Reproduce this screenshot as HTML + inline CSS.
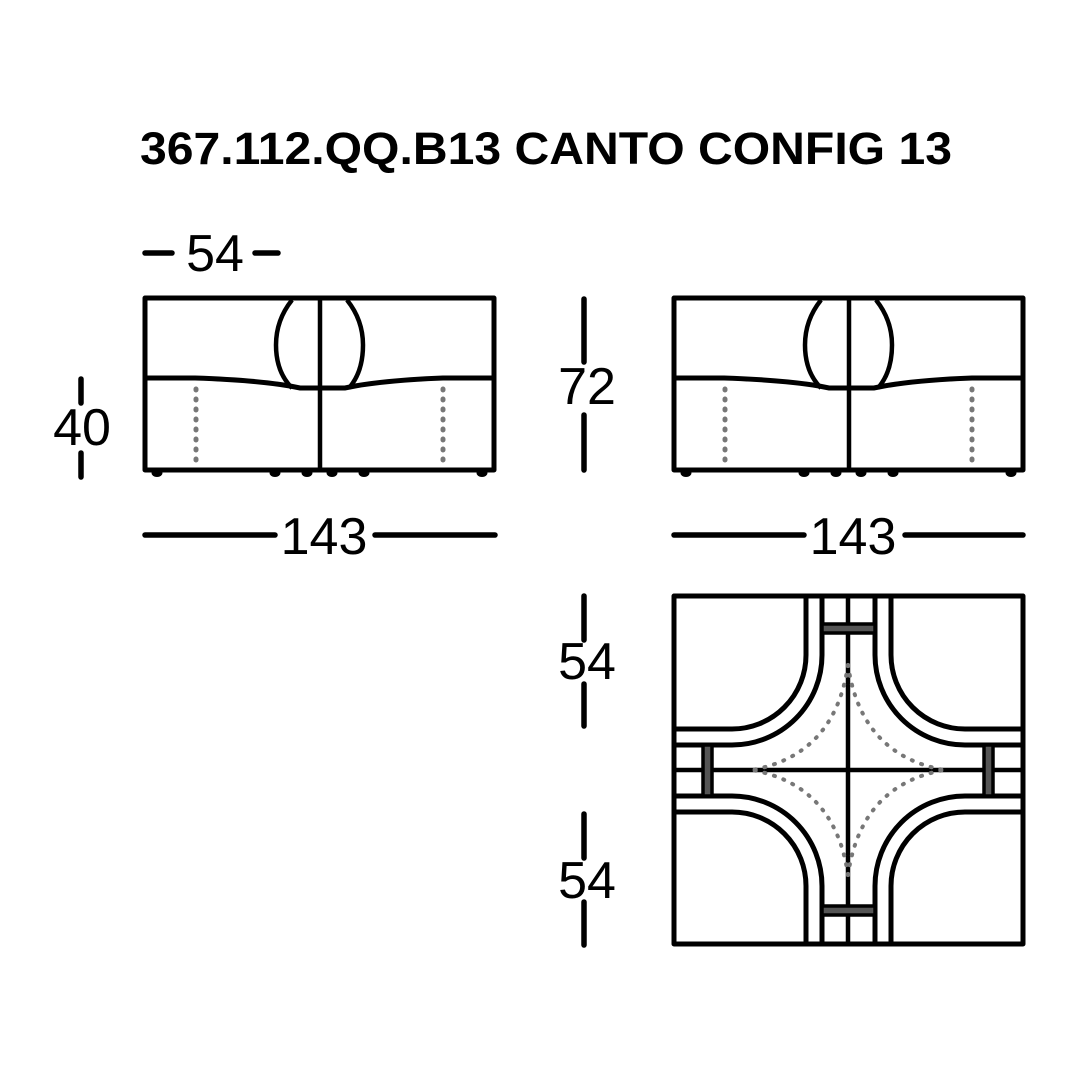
<!DOCTYPE html>
<html><head><meta charset="utf-8"><style>
html,body{margin:0;padding:0;background:#fff;}
svg{display:block;}
text{font-family:"Liberation Sans",Arial,sans-serif;}
</style></head><body>
<svg width="1080" height="1080" viewBox="0 0 1080 1080" xmlns="http://www.w3.org/2000/svg">
<rect width="1080" height="1080" fill="#fff"/>
<text x="140" y="164" font-size="45" font-weight="bold" fill="#000" textLength="812" lengthAdjust="spacingAndGlyphs">367.112.QQ.B13 CANTO CONFIG 13</text>

<defs>
<g id="front">
  <rect x="145" y="298" width="349" height="172" fill="none" stroke="#000" stroke-width="5" stroke-linejoin="round"/>
  <line x1="320" y1="298" x2="320" y2="470" stroke="#000" stroke-width="4.5"/>
  <path d="M147 378 L195 378 Q255 380 290 386 L300 388 L345 388 L355 386 Q390 380 443 378 L492 378" fill="none" stroke="#000" stroke-width="5"/>
  <path d="M292 300 Q276 320 276 345 Q276 372 292 388" fill="none" stroke="#000" stroke-width="4.5"/>
  <path d="M347 300 Q363 320 363 345 Q363 372 349 388" fill="none" stroke="#000" stroke-width="4.5"/>
  <line x1="196" y1="389" x2="196" y2="463" stroke="#777" stroke-width="5" stroke-dasharray="1,9" stroke-linecap="round"/>
  <line x1="443" y1="389" x2="443" y2="463" stroke="#777" stroke-width="5" stroke-dasharray="1,9" stroke-linecap="round"/>
  <g fill="#000">
    <ellipse cx="157" cy="473" rx="5.5" ry="4"/>
    <ellipse cx="275" cy="473" rx="5.5" ry="4"/>
    <ellipse cx="307" cy="473" rx="5.5" ry="4"/>
    <ellipse cx="332" cy="473" rx="5.5" ry="4"/>
    <ellipse cx="364" cy="473" rx="5.5" ry="4"/>
    <ellipse cx="482" cy="473" rx="5.5" ry="4"/>
  </g>
</g>
</defs>
<use href="#front"/>
<use href="#front" transform="translate(529,0)"/>

<g stroke="#000" stroke-width="5.5" stroke-linecap="round">
  <line x1="145" y1="253" x2="172" y2="253"/>
  <line x1="255" y1="253" x2="278" y2="253"/>
  <line x1="81" y1="379" x2="81" y2="403"/>
  <line x1="81" y1="453" x2="81" y2="477"/>
  <line x1="584" y1="299" x2="584" y2="362"/>
  <line x1="584" y1="415" x2="584" y2="470"/>
  <line x1="145" y1="535" x2="275" y2="535"/>
  <line x1="375" y1="535" x2="495" y2="535"/>
  <line x1="674" y1="535" x2="804" y2="535"/>
  <line x1="905" y1="535" x2="1023" y2="535"/>
  <line x1="584" y1="596" x2="584" y2="640"/>
  <line x1="584" y1="684" x2="584" y2="726"/>
  <line x1="584" y1="814" x2="584" y2="858"/>
  <line x1="584" y1="902" x2="584" y2="945"/>
</g>
<g font-size="52" fill="#000" text-anchor="middle">
  <text x="215" y="271">54</text>
  <text x="82" y="445">40</text>
  <text x="587" y="404">72</text>
  <text x="324" y="554">143</text>
  <text x="853" y="554">143</text>
  <text x="587" y="679">54</text>
  <text x="587" y="898">54</text>
</g>

<g fill="none" stroke="#000" stroke-width="5">
  <rect x="674" y="596" width="349" height="348" stroke-linejoin="round"/>
  <line x1="848" y1="596" x2="848" y2="944" stroke-width="4.5"/>
  <line x1="674" y1="770" x2="1023" y2="770" stroke-width="4.5"/>
  <path d="M806 596 L806 655 A74 74 0 0 1 732 729 L674 729"/>
  <path d="M822 596 L822 655 A90 90 0 0 1 732 745 L674 745"/>
  <path d="M891 596 L891 655 A74 74 0 0 0 965 729 L1023 729"/>
  <path d="M875 596 L875 655 A90 90 0 0 0 965 745 L1023 745"/>
  <path d="M806 944 L806 886 A74 74 0 0 0 732 812 L674 812"/>
  <path d="M822 944 L822 886 A90 90 0 0 0 732 796 L674 796"/>
  <path d="M891 944 L891 886 A74 74 0 0 1 965 812 L1023 812"/>
  <path d="M875 944 L875 886 A90 90 0 0 1 965 796 L1023 796"/>
</g>
<g stroke="#777" stroke-width="4" fill="none" stroke-dasharray="1,9" stroke-linecap="round">
  <path d="M848 665 Q835 755 752 770"/>
  <path d="M848 665 Q861 755 944 770"/>
  <path d="M848 875 Q835 785 752 770"/>
  <path d="M848 875 Q861 785 944 770"/>
</g>
<g fill="#555" stroke="#000" stroke-width="3.5">
  <rect x="822" y="624" width="53" height="9"/>
  <rect x="822" y="906" width="53" height="9"/>
  <rect x="703" y="745" width="9" height="51"/>
  <rect x="984" y="745" width="9" height="51"/>
</g>
</svg>
</body></html>
